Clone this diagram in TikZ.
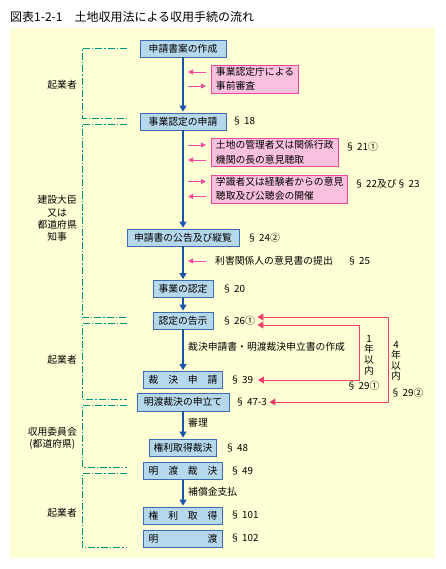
\documentclass[tikz,border=0pt]{standalone}
\usepackage{fontspec}
\setmainfont{Noto Sans CJK JP}
\usetikzlibrary{arrows.meta}

\definecolor{paper}{RGB}{255,255,214}
\definecolor{boxfill}{RGB}{182,216,236}
\definecolor{boxline}{RGB}{62,108,178}
\definecolor{flowline}{RGB}{24,84,170}
\definecolor{notefill}{RGB}{250,192,224}
\definecolor{notebd}{RGB}{232,72,146}
\definecolor{ptrcol}{RGB}{242,76,160}
\definecolor{backline}{RGB}{240,66,104}
\definecolor{grpline}{RGB}{0,150,128}

\begin{document}
\begin{tikzpicture}[
    x=1pt, y=-1pt,
    txt/.style={font=\fontsize{9.8}{12}\selectfont, inner sep=0pt},
    proc/.style={txt, draw=boxline, fill=boxfill, line width=0.9pt, minimum height=17pt},
    note/.style={txt, draw=notebd, fill=notefill, line width=0.9pt, align=left,
        inner xsep=4.5pt, minimum height=28pt, anchor=west,
        font=\fontsize{9.8}{14.5}\selectfont},
    ref/.style={txt, anchor=west},
    who/.style={txt, anchor=east, align=center},
    flow/.style={draw=flowline, line width=1.1pt, shorten >=1pt,
        -{Triangle[width=7pt,length=6pt]}},
    ptr/.style={draw=ptrcol, line width=0.9pt, -{Triangle[width=5pt,length=5pt]}},
    back/.style={draw=backline, line width=1pt,
        {Triangle[width=7pt,length=6pt]}-{Triangle[width=7pt,length=6pt]}},
    grp/.style={draw=grpline, line width=0.9pt,
        dash pattern=on 7pt off 2pt on 1.5pt off 2pt}
]
\useasboundingbox (0,0) rectangle (445,569);

% Background and heading
\fill[paper] (10,28) rectangle (435,558);
\node[anchor=west, inner sep=0pt, font=\fontsize{12}{14}\selectfont] (heading) at (10,17)
    {図表1-2-1　土地収用法による収用手続の流れ};

% Who is in charge (dash-dot brackets)
\foreach \top/\bot in {48/118, 124/317, 323/399, 405/467, 473/547}
    \draw[grp] (127,\top) -- (82,\top) -- (82,\bot) -- (127,\bot);

\node[who] (sponsorA) at (77,85) {起業者};
\node[who, font=\fontsize{9.8}{12.3}\selectfont] (minister) at (77,218.5)
    {建設大臣\\又は\\都道府県\\知事};
\node[who] (sponsorB) at (77,360) {起業者};
\node[who] (committee) at (77,438) {収用委員会\\(都道府県)};
\node[who] (sponsorC) at (77,513) {起業者};

% Main procedure
\node[proc, minimum width=86pt] (draft) at (183,48.5) {申請書案の作成};
\node[proc, minimum width=86pt] (apply) at (183,121.5) {事業認定の申請};
\node[proc, minimum width=112pt] (notify) at (183,237.5) {申請書の公告及び縦覧};
\node[proc, minimum width=60pt] (grant) at (183,289) {事業の認定};
\node[proc, minimum width=60pt] (announce) at (183,320.5) {認定の告示};
\node[proc, minimum width=79pt] (ruling) at (183,380) {裁　決　申　請};
\node[proc, minimum width=92pt, minimum height=18pt] (petition) at (183,402) {明渡裁決の申立て};
\node[proc, minimum width=67pt] (acquire) at (183,447.5) {権利取得裁決};
\node[proc, minimum width=79pt] (evict) at (183,471) {明　渡　裁　決};
\node[proc, minimum width=79pt] (obtain) at (183,515.5) {権　利　取　得};
\node[proc, minimum width=79pt] (handover) at (183,538.5) {明　　　　　渡};

\draw[flow] (draft) -- (apply);
\draw[flow] (apply) -- (notify);
\draw[flow] (notify) -- (grant);
\draw[flow] (grant) -- (announce);
\draw[flow] (announce) -- (ruling);
\draw[flow] (petition) -- (acquire);
\draw[flow] (evict) -- (obtain);

% Articles
\node[ref] (s18) at (232,121.5) {§ 18};
\node[ref] (s24) at (247,238) {§ 24②};
\node[ref] (s20) at (222,289) {§ 20};
\node[ref] (s26) at (222,321) {§ 26①};
\node[ref] (s39) at (230,380) {§ 39};
\node[ref] (s47) at (235,402) {§ 47-3};
\node[ref] (s48) at (225,448) {§ 48};
\node[ref] (s49) at (230,471) {§ 49};
\node[ref] (s101) at (230,515.5) {§ 101};
\node[ref] (s102) at (230,538.5) {§ 102};

% Hearings beside the line
\node[note] (pre) at (211,79) {事業認定庁による\\事前審査};
\node[note] (consult) at (211,152.5) {土地の管理者又は関係行政\\機関の長の意見聴取};
\node[note] (hearing) at (211,189) {学識者又は経験者からの意見\\聴取及び公聴会の開催};
\node[ref] (s21) at (345,147) {§ 21①};
\node[ref] (s22) at (354,184) {§ 22及び§ 23};

\draw[ptr] ([xshift=-5pt,yshift=7pt]pre.west) -- ++(-18pt,0);
\draw[ptr] ([xshift=-23pt,yshift=-7pt]pre.west) -- ++(18pt,0);
\foreach \n in {consult, hearing} {
    \draw[ptr] ([xshift=-23pt,yshift=7.5pt]\n.west) -- ++(18pt,0);
    \draw[ptr] ([xshift=-5pt,yshift=-7.5pt]\n.west) -- ++(-18pt,0);
}

\node[ref] (objection) at (215,261) {利害関係人の意見書の提出};
\node[ref] (s25) at (347,261) {§ 25};
\draw[ptr] ([xshift=-9pt]objection.west) -- ++(-18pt,0);

% Side notes on the line
\node[ref] (prepare) at (188,347) {裁決申請書・明渡裁決申立書の作成};
\node[ref] (trial) at (188,423) {審理};
\node[ref] (payment) at (188,492) {補償金支払};

% Time limits
\draw[back] ([xshift=44pt,yshift=-4.5pt]announce.east) -- ++(102pt,0)
    |- ([xshift=35pt]ruling.east);
\draw[back] ([xshift=44pt,yshift=3.5pt]announce.east) -- ++(131pt,0)
    |- ([xshift=40pt]petition.east);

\node[txt, align=center, font=\fontsize{9.8}{10.7}\selectfont] (oneyear) at (369,355)
    {1\\年\\以\\内};
\node[txt, align=center, font=\fontsize{9.8}{10.2}\selectfont] (fouryear) at (396,361)
    {4\\年\\以\\内};
\node[txt] (s29a) at (363,386) {§ 29①};
\node[txt] (s29b) at (407,393) {§ 29②};

\end{tikzpicture}
\end{document}
